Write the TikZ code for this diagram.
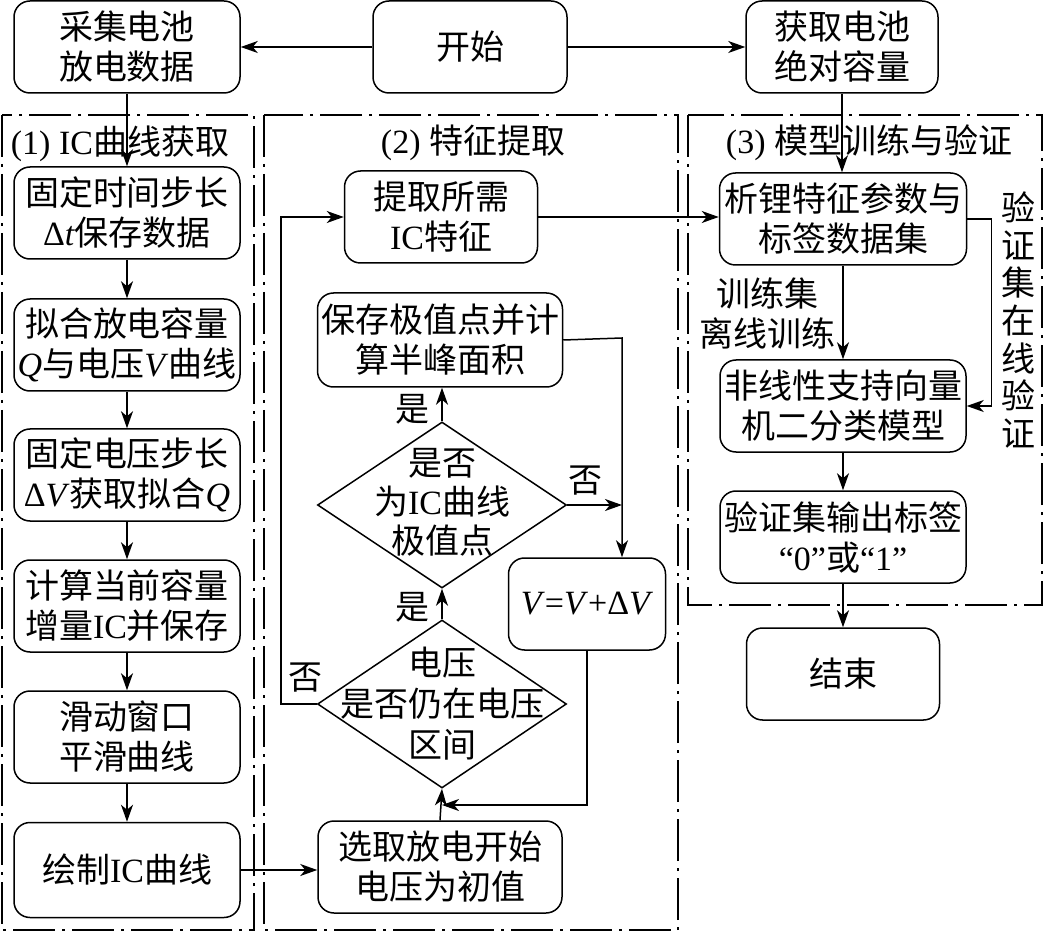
\documentclass[tikz,border=0pt]{standalone}
\usepackage{fontspec}
\setmainfont{Liberation Serif}
\newfontfamily\cjk{Noto Sans CJK SC}
\newfontfamily\lat{Liberation Serif}
\newcommand{\en}[1]{{\lat #1}}
\usetikzlibrary{arrows.meta,shapes.geometric,calc}
\tikzset{
 base/.style={font=\cjk\fontsize{34}{40}\selectfont},
 box/.style={base, draw, line width=1.5pt, rounded corners=16pt, align=center, inner sep=0pt, minimum width=#1, minimum height=92pt},
 box/.default=226pt,
 dia/.style={draw, diamond, line width=1.5pt, inner sep=0pt, minimum width=249pt, minimum height=166pt},
 arr/.style={line width=1.5pt, -{Stealth[length=17pt,width=12pt,inset=5pt]}},
 ln/.style={line width=1.5pt},
 frame/.style={line width=1.5pt, dash pattern=on 42pt off 7pt on 3pt off 7pt},
 lab/.style={base, inner sep=0pt, align=center},
}
\begin{document}
\begin{tikzpicture}[x=1pt,y=-1pt]
\useasboundingbox (0,0) rectangle (1045,933);
% frames
\draw[frame] (2,115) rectangle (254,930);
\draw[frame] (264,115) rectangle (678,930);
\draw[frame] (688,115) rectangle (1042,605);
\node[lab] (t1) at (120,144) {\en{(1) IC}曲线获取};
\node[lab] (t2) at (473,143) {\en{(2) }特征提取};
\node[lab] (t3) at (869,143) {\en{(3) }模型训练与验证};
% top row
\node[box] (cj) at (127,47) {采集电池\\放电数据};
\node[box=194pt] (ks) at (470,47) {开始};
\node[box=192pt] (hq) at (842,47) {获取电池\\绝对容量};
% left column
\node[box] (L1) at (127,213) {固定时间步长\\\en{Δ\textit{t}}保存数据};
\node[box] (L2) at (127,345) {拟合放电容量\\\en{\textit{Q}}与电压\en{\textit{V}}曲线};
\node[box] (L3) at (127,475) {固定电压步长\\\en{Δ\textit{V}}获取拟合\en{\textit{Q}}};
\node[box] (L4) at (127,606) {计算当前容量\\增量\en{IC}并保存};
\node[box] (L5) at (127,737) {滑动窗口\\平滑曲线};
\node[box, minimum height=95pt] (L6) at (127,870) {绘制\en{IC}曲线};
% middle column
\node[box=193pt] (ext) at (441,217) {提取所需\\\en{IC}特征};
\node[box=245pt, minimum height=94pt] (save) at (440,340) {保存极值点并计\\算半峰面积};
\node[dia] (d1) at (442,505) {};
\node[lab, font=\cjk\fontsize{34}{39}\selectfont] (d1t) at (442,502) {是否\\为\en{IC}曲线\\极值点};
\node[box=157pt] (V) at (587,604) {\en{\textit{V}=\textit{V}+Δ\textit{V}}};
\node[dia, minimum height=168pt] (d2) at (442,704) {};
\node[lab, font=\cjk\fontsize{34}{41}\selectfont] (d2t) at (442,704) {电压\\是否仍在电压\\区间};
\node[box=244pt] (sel) at (440,867) {选取放电开始\\电压为初值};
% right column
\node[box=247pt] (xs) at (843,219) {析锂特征参数与\\标签数据集};
\node[box=246pt] (svm) at (843,406) {非线性支持向量\\机二分类模型};
\node[box=246pt] (out) at (843,537) {验证集输出标签\\\en{“0”}或\en{“1”}};
\node[box=193pt] (end) at (843,674) {结束};
\node[lab] (trn) at (767,313) {训练集\\离线训练};
\node[lab, font=\cjk\fontsize{34}{37.7}\selectfont] (val) at (1018,320) {验\\证\\集\\在\\线\\验\\证};
% labels
\node[lab] (y1) at (412,409) {是};
\node[lab] (y2) at (412,607) {是};
\node[lab] (n1) at (585,481) {否};
\node[lab] (n2) at (305,678) {否};
% coordinates
\coordinate (vin) at (622,338);
\coordinate (ret) at (442,805);
% connectors
\draw[arr] (ks.west) -- (cj.east);
\draw[arr] (ks.east) -- (hq.west);
\draw[arr] (cj.south) -- (L1.north);
\draw[arr] (L1.south) -- (L2.north);
\draw[arr] (L2.south) -- (L3.north);
\draw[arr] (L3.south) -- (L4.north);
\draw[arr] (L4.south) -- (L5.north);
\draw[arr] (L5.south) -- (L6.north);
\draw[arr] (L6.east) -- (L6.east -| sel.west);
\draw[arr] (sel.north) -- (d2.south);
\draw[arr] (d2.north) -- (d1.south);
\draw[arr] (d1.north) -- (d1.north |- save.south);
\draw[arr] (save.east) -- (vin) -- (vin |- V.north);
\draw[arr] (d1.east) -- (d1.east -| vin);
\draw[arr] (V.south) |- (ret);
\draw[arr] (d2.west) -- ++(-36,0) |- (ext.west);
\draw[arr] (ext.east) -- (ext.east -| xs.west);
\draw[arr] (hq.south) -- (hq.south |- xs.north);
\draw[arr] (xs.south) -- (svm.north);
\draw[arr] (xs.east) -- ++(24,0) |- (svm.east);
\draw[arr] (svm.south) -- (out.north);
\draw[arr] (out.south) -- (end.north);
\end{tikzpicture}
\end{document}
